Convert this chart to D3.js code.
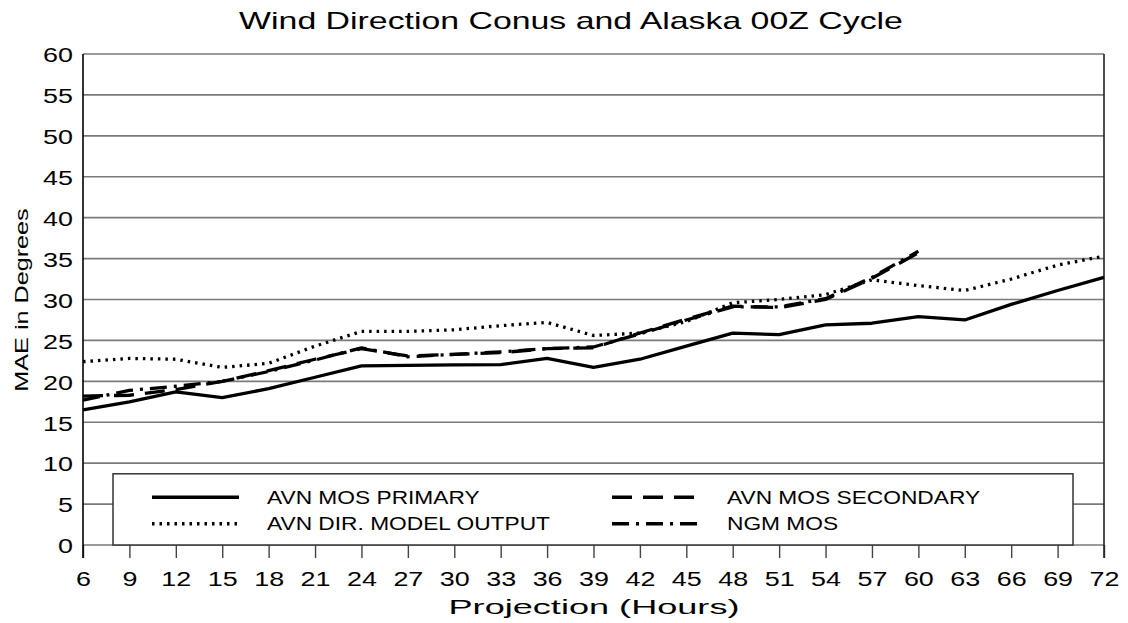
<!DOCTYPE html>
<html>
<head>
<meta charset="utf-8">
<script src="https://cdn.jsdelivr.net/npm/d3@7"></script>
<style>
	body { margin: 0; background: #fff; }
	text { font-family: 'Liberation Sans', Arial, sans-serif; fill: #000; }
</style>
</head>
<body>
<div id="chart"></div>
<script>
let width = 1128
let height = 623

let margins = {
	'top': 54,
	'right': 24,
	'bottom': 78,
	'left': 83,
}

let hours = [6, 9, 12, 15, 18, 21, 24, 27, 30, 33, 36, 39, 42, 45, 48, 51, 54, 57, 60, 63, 66, 69, 72]
let yTicks = [0, 5, 10, 15, 20, 25, 30, 35, 40, 45, 50, 55, 60]

let avnPrimary = [16.5, 17.5, 18.7, 18.0, 19.1, 20.5, 21.9, 21.95, 22.0, 22.05, 22.8, 21.7, 22.7, 24.3, 25.9, 25.7, 26.9, 27.1, 27.9, 27.5, 29.4, 31.1, 32.7]
let avnSecondary = [18.2, 18.3, 19.0, 20.0, 21.3, 22.7, 24.0, 23.1, 23.3, 23.5, 24.0, 24.1, 25.9, 27.6, 29.2, 29.0, 30.0, 32.6, 35.7]
let avnDirect = [22.4, 22.8, 22.7, 21.7, 22.2, 24.3, 26.1, 26.1, 26.3, 26.8, 27.2, 25.6, 25.9, 27.3, 29.6, 30.0, 30.6, 32.4, 31.7, 31.1, 32.5, 34.2, 35.3]
let ngmMos = [17.7, 18.9, 19.4, 20.0, 21.2, 22.6, 24.1, 23.0, 23.3, 23.6, 24.0, 24.2, 25.8, 27.5, 29.1, 29.1, 30.1, 32.7, 35.9]

let series = [
	{ name: 'AVN MOS PRIMARY', values: avnPrimary, dash: null },
	{ name: 'AVN MOS SECONDARY', values: avnSecondary, dash: '20,11' },
	{ name: 'AVN DIR. MODEL OUTPUT', values: avnDirect, dash: '2.5,5' },
	{ name: 'NGM MOS', values: ngmMos, dash: '17,7,3,7' },
]

let innerW = width - margins.left - margins.right
let innerH = height - margins.top - margins.bottom

let xScale = d3.scaleLinear()
	.domain([6, 72])
	.range([0, innerW])

let yScale = d3.scaleLinear()
	.domain([0, 60])
	.range([innerH, 0])

// stretch text horizontally (the original glyphs are wide)
function stretch(sel, k) {
	sel.each(function () {
		let t = d3.select(this)
		let x = +t.attr('x') || 0
		let y = +t.attr('y') || 0
		t.attr('x', 0).attr('y', 0)
			.attr('transform', 'translate(' + x + ',' + y + ') scale(' + k + ',1)')
	})
}

let svg = d3.select('#chart').append('svg')
	.attr('width', width)
	.attr('height', height)

svg.append('text')
	.attr('x', 571)
	.attr('y', 29)
	.attr('text-anchor', 'middle')
	.style('font-size', '24px')
	.text('Wind Direction Conus and Alaska 00Z Cycle')
	.call(stretch, 1.41)

let inner = svg.append('g')
	.attr('transform', 'translate(' + margins.left + ',' + margins.top + ')')

// grid
inner.append('g').selectAll('line')
	.data(yTicks)
	.enter().append('line')
	.attr('x1', 0)
	.attr('x2', innerW)
	.attr('y1', d => yScale(d))
	.attr('y2', d => yScale(d))
	.attr('stroke', '#7a7a7a')
	.attr('stroke-width', 1.6)

let yAxis = d3.axisLeft(yScale)
	.tickValues(yTicks)
	.tickSize(0)
	.tickPadding(10)

let yG = inner.append('g').call(yAxis)
yG.select('.domain').remove()
yG.selectAll('text')
	.style('font-size', '19.5px')
	.style('font-family', "'Liberation Sans', Arial, sans-serif")
	.attr('dy', '0.4em')
	.call(stretch, 1.38)

let xAxis = d3.axisBottom(xScale)
	.tickValues(hours)
	.tickSize(13)
	.tickPadding(13)

let xG = inner.append('g')
	.attr('transform', 'translate(0,' + innerH + ')')
	.call(xAxis)
xG.select('.domain').remove()
xG.selectAll('line').attr('stroke', '#444').attr('stroke-width', 1.4)
xG.selectAll('text')
	.style('font-size', '19.5px')
	.style('font-family', "'Liberation Sans', Arial, sans-serif")
	.attr('dy', '0.75em')
	.call(stretch, 1.38)

// left axis and right border
inner.append('line')
	.attr('x1', 0).attr('x2', 0)
	.attr('y1', 0).attr('y2', innerH + 13)
	.attr('stroke', '#000').attr('stroke-width', 1.6)
inner.append('line')
	.attr('x1', innerW).attr('x2', innerW)
	.attr('y1', 0).attr('y2', innerH + 13)
	.attr('stroke', '#222').attr('stroke-width', 1.6)

// legend box
let legend = inner.append('g')
legend.append('rect')
	.attr('x', 30)
	.attr('y', yScale(8.7))
	.attr('width', 960)
	.attr('height', yScale(0) - yScale(8.7))
	.attr('fill', '#fff')
	.attr('stroke', '#333')
	.attr('stroke-width', 1.5)

let legendPos = [
	{ x: 69, y: yScale(5.85) },
	{ x: 529, y: yScale(5.85) },
	{ x: 69, y: yScale(2.6) },
	{ x: 529, y: yScale(2.6) },
]

series.forEach((s, i) => {
	let p = legendPos[i]
	legend.append('line')
		.attr('x1', p.x).attr('x2', p.x + 87)
		.attr('y1', p.y).attr('y2', p.y)
		.attr('stroke', '#000')
		.attr('stroke-width', 3.5)
		.attr('stroke-dasharray', s.dash)
	legend.append('text')
		.attr('x', p.x + 115)
		.attr('y', p.y + 6.5)
		.style('font-size', '17.5px')
		.text(s.name)
		.call(stretch, 1.3)
})

// lines
let line = d3.line()
	.x((d, i) => xScale(hours[i]))
	.y(d => yScale(d))

let marks = inner.append('g')
marks.selectAll('path')
	.data(series)
	.enter().append('path')
	.attr('d', d => line(d.values))
	.attr('fill', 'none')
	.attr('stroke', '#000')
	.attr('stroke-width', 3.3)
	.attr('stroke-linejoin', 'round')
	.attr('stroke-dasharray', d => d.dash)

// axis labels
svg.append('text')
	.attr('x', 594)
	.attr('y', 614)
	.attr('text-anchor', 'middle')
	.style('font-size', '21px')
	.text('Projection (Hours)')
	.call(stretch, 1.72)

svg.append('text')
	.attr('text-anchor', 'middle')
	.attr('transform', 'translate(28,300) rotate(-90) scale(1.4,1)')
	.style('font-size', '18px')
	.text('MAE in Degrees')
</script>
</body>
</html>
